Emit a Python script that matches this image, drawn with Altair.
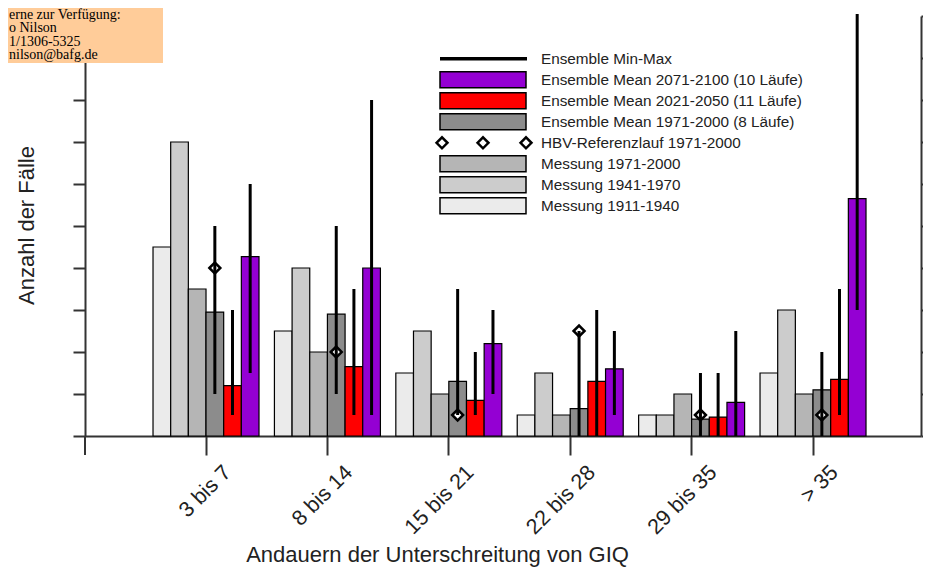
import altair as alt
import pandas as pd

# ---------------- data ----------------
categories = ["3 bis 7", "8 bis 14", "15 bis 21", "22 bis 28", "29 bis 35", "> 35"]
series = [
    "Messung 1911-1940",
    "Messung 1941-1970",
    "Messung 1971-2000",
    "Ensemble Mean 1971-2000 (8 Läufe)",
    "Ensemble Mean 2021-2050 (11 Läufe)",
    "Ensemble Mean 2071-2100 (10 Läufe)",
]
colors = ["#EBEBEB", "#CCCCCC", "#B5B5B5", "#8C8C8C", "#FF0000", "#9400D3"]

mess_1911 = [4.5, 2.5, 1.5, 0.5, 0.5, 1.5]
mess_1941 = [7.0, 4.0, 2.5, 1.5, 0.5, 3.0]
mess_1971 = [3.5, 2.0, 1.0, 0.5, 1.0, 1.0]
ens_1971 = [2.95, 2.9, 1.3, 0.65, 0.4, 1.1]
ens_2021 = [1.2, 1.65, 0.85, 1.3, 0.45, 1.35]
ens_2071 = [4.27, 4.0, 2.2, 1.6, 0.8, 5.65]

ens_1971_min = [1.0, 1.0, 0.5, 0.0, 0.0, 0.0]
ens_1971_max = [5.0, 5.0, 3.5, 2.5, 1.5, 2.0]
ens_2021_min = [0.5, 0.5, 0.5, 0.0, 0.0, 0.5]
ens_2021_max = [3.0, 3.5, 2.0, 3.0, 1.5, 3.5]
ens_2071_min = [1.5, 0.5, 1.0, 0.5, 0.0, 3.0]
ens_2071_max = [6.0, 8.0, 3.0, 2.5, 2.5, 10.05]

hbv_ref = [4.0, 2.0, 0.5, 2.5, 0.5, 0.5]

legend_labels = [
    "Ensemble Min-Max",
    "Ensemble Mean 2071-2100 (10 Läufe)",
    "Ensemble Mean 2021-2050 (11 Läufe)",
    "Ensemble Mean 1971-2000 (8 Läufe)",
    "HBV-Referenzlauf 1971-2000",
    "Messung 1971-2000",
    "Messung 1941-1970",
    "Messung 1911-1940",
]
legend_kinds = ["line", "rect", "rect", "rect", "diamond", "rect", "rect", "rect"]
legend_fill = ["#000000", colors[5], colors[4], colors[3], "#FFFFFF", colors[2], colors[1], colors[0]]

box_lines = ["erne zur Verfügung:", "o Nilson", "1/1306-5325", "nilson@bafg.de"]

# ---------------- tables ----------------
bar_rows = []
for i, c in enumerate(categories):
    for s, vals in zip(series, [mess_1911, mess_1941, mess_1971, ens_1971, ens_2021, ens_2071]):
        bar_rows.append({"cat": c, "series": s, "value": vals[i]})
bars_df = pd.DataFrame(bar_rows)

err_rows = []
for i, c in enumerate(categories):
    for s, lo, hi in [
        (series[3], ens_1971_min, ens_1971_max),
        (series[4], ens_2021_min, ens_2021_max),
        (series[5], ens_2071_min, ens_2071_max),
    ]:
        err_rows.append({"cat": c, "series": s, "lo": lo[i], "hi": hi[i]})
err_df = pd.DataFrame(err_rows)

hbv_df = pd.DataFrame({"cat": categories, "series": [series[3]] * len(categories), "hbv": hbv_ref})

leg_df = pd.DataFrame({"label": legend_labels, "kind": legend_kinds, "fill": legend_fill,
                       "idx": list(range(len(legend_labels)))})
one_df = pd.DataFrame({"a": [0]})

# ---------------- scales / axes ----------------
FONT = "Liberation Sans"
x_scale = alt.Scale(domain=categories, paddingInner=0.127, paddingOuter=0.5066, align=0.553, round=False)
off_scale = alt.Scale(domain=series, paddingInner=0, paddingOuter=0, round=False)
y_scale = alt.Scale(domain=[0, 10], nice=False, zero=True)

x_axis = alt.Axis(
    title="Andauern der Unterschreitung von GIQ",
    titleFont=FONT, titleFontSize=22, titleFontWeight="normal", titleColor="#222222",
    titleX=352, titleY=125, titleAlign="center", titleBaseline="alphabetic",
    labelFont=FONT, labelFontSize=21.5, labelColor="#222222", labelAngle=315,
    labelAlign="right", labelBaseline="middle", labelPadding=14, labelOffset=22,
    labelOverlap=False, tickSize=19, tickWidth=2, tickColor="#333333",
    domainColor="#333333", domainWidth=2, grid=False,
)
y_left = alt.Axis(
    orient="left", values=list(range(11)), labels=False, tickSize=12, tickWidth=2,
    tickColor="#333333", domainColor="#333333", domainWidth=2, grid=False, zindex=0,
    title="Anzahl der Fälle", titleFont=FONT, titleFontSize=22, titleFontWeight="normal",
    titleColor="#222222", titleAngle=270, titleX=-52, titleY=209, titleAlign="center",
    titleBaseline="alphabetic",
)
y_right = alt.Axis(
    orient="right", values=list(range(11)), labels=False, tickSize=10, tickWidth=2,
    tickColor="#333333", domainColor="#333333", domainWidth=2, grid=False, title=None, zindex=0,
)

X = alt.X("cat:N", scale=x_scale, axis=x_axis)
XO = alt.XOffset("series:N", scale=off_scale)

# ---------------- main marks ----------------
bars = alt.Chart(bars_df).mark_bar(stroke="black", strokeWidth=1.2, opacity=1).encode(
    x=X, xOffset=XO,
    y=alt.Y("value:Q", scale=y_scale, axis=y_left),
    fill=alt.Fill("series:N", scale=alt.Scale(domain=series, range=colors), legend=None),
)

diamonds = alt.Chart(hbv_df).mark_point(
    shape="diamond", filled=True, fill="white", stroke="black", strokeWidth=2.5, size=120, opacity=1
).encode(x=X, xOffset=XO, y=alt.Y("hbv:Q", scale=y_scale, axis=None))

rules = alt.Chart(err_df).mark_rule(strokeWidth=3, color="black").encode(
    x=X, xOffset=XO,
    y=alt.Y("lo:Q", scale=y_scale, axis=y_right),
    y2="hi:Q",
)

# ---------------- legend ----------------
leg_base = alt.Chart(leg_df).transform_calculate(
    ly="8.98 - 0.5*datum.idx",
    ly1="8.98 - 0.5*datum.idx - 0.19",
    ly2="8.98 - 0.5*datum.idx + 0.19",
)
leg_line = leg_base.transform_filter("datum.kind == 'line'").mark_rule(strokeWidth=3.5, color="black").encode(
    x=alt.value(355), x2=alt.value(442), y=alt.Y("ly:Q", scale=y_scale, axis=None)
)
leg_rect = leg_base.transform_filter("datum.kind == 'rect'").mark_rect(stroke="black", strokeWidth=1.5).encode(
    x=alt.value(355), x2=alt.value(441),
    y=alt.Y("ly1:Q", scale=y_scale, axis=None), y2="ly2:Q",
    fill=alt.Fill("fill:N", scale=None),
)
leg_diamonds = [
    leg_base.transform_filter("datum.kind == 'diamond'").mark_point(
        shape="diamond", filled=True, fill="white", stroke="black", strokeWidth=2.5, size=120, opacity=1
    ).encode(x=alt.value(px), y=alt.Y("ly:Q", scale=y_scale, axis=None))
    for px in (357, 398, 441)
]
leg_text = leg_base.mark_text(align="left", baseline="middle", font=FONT, fontSize=15.3, color="#222222").encode(
    x=alt.value(456), y=alt.Y("ly:Q", scale=y_scale, axis=None), text="label:N"
)

# ---------------- contact box ----------------
box = alt.Chart(one_df).mark_rect(color="#FFCC99", opacity=1).encode(
    x=alt.value(-77), x2=alt.value(78), y=alt.value(-8), y2=alt.value(47)
)
box_texts = [
    alt.Chart(one_df).mark_text(
        align="left", baseline="alphabetic", font="Liberation Serif", fontSize=14, color="black", text=t
    ).encode(x=alt.value(-76), y=alt.value(yy))
    for t, yy in zip(box_lines, (2.5, 16, 29.5, 43))
]

ext = alt.Chart(one_df).mark_rule(color="#333333", strokeWidth=2).encode(
    x=alt.value(0), y=alt.value(420), y2=alt.value(439)
)

chart = alt.layer(
    bars, diamonds, rules, leg_line, leg_rect, *leg_diamonds, leg_text, box, *box_texts, ext
).resolve_axis(y="independent").properties(
    width=836, height=420,
    autosize=alt.AutoSizeParams(type="none"),
    padding={"left": 77, "top": 8, "right": 2, "bottom": 134},
).configure(background="white").configure_view(stroke="transparent", strokeWidth=0)

chart.save("out.html", embed_options={"renderer": "svg", "actions": False})
